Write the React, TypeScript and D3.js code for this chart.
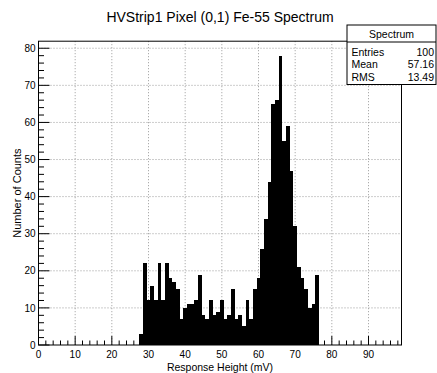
import React from "react";
import * as d3 from "d3";

const binCenters = [28, 29, 30, 31, 32, 33, 34, 35, 36, 37, 38, 39, 40, 41, 42, 43, 44, 45, 46, 47, 48, 49, 50, 51, 52, 53, 54, 55, 56, 57, 58, 59, 60, 61, 62, 63, 64, 65, 66, 67, 68, 69, 70, 71, 72, 73, 74, 75, 76];
const counts = [3, 22, 12, 16, 12, 22, 12, 22, 18, 17, 15, 7, 10, 11, 11, 12, 19, 8, 7, 12, 8, 9, 12, 7, 8, 15, 7, 8, 5, 12, 7, 15, 18, 26, 34, 44, 65, 66, 78, 55, 59, 47, 32, 21, 18, 15, 10, 11, 19];
const xTicks = [0, 10, 20, 30, 40, 50, 60, 70, 80, 90];
const yTicks = [0, 10, 20, 30, 40, 50, 60, 70, 80];
const title = "HVStrip1 Pixel (0,1) Fe-55 Spectrum";
const xTitle = "Response Height (mV)";
const yTitle = "Number of Counts";
const statsName = "Spectrum";
const statsLabels = ["Entries", "Mean", "RMS"];
const statsValues = ["100", "57.16", "13.49"];

const FONT = "'Liberation Sans', Arial, Helvetica, sans-serif";

export default function App() {
  const W = 437;
  const H = 373;
  const left = 38.5;
  const right = 401.5;
  const top = 41.2;
  const bottom = 345;
  const x = d3.scaleLinear().domain([0, 99]).range([left, right]);
  const y = d3.scaleLinear().domain([0, 81.9]).range([bottom, top]);
  const xMinor = d3.range(0, 99, 2);
  const yMinor = d3.range(0, 81, 2);

  const box = { x0: 347, x1: 436, y0: 25, sep: 42, y1: 84.5 };
  const rowBase = [55.5, 68, 80.5];

  return (
    <svg
      width={W}
      height={H}
      style={{ position: "absolute", left: 0, top: 0, display: "block", background: "#fff" }}
      fontFamily={FONT}
    >
      <rect x={0} y={0} width={W} height={H} fill="#fff" />
      {/* grid */}
      <g stroke="#9a9a9a" strokeWidth={1} strokeDasharray="1,2">
        {xTicks.filter((t) => t > 0).map((t) => (
          <line key={"gx" + t} x1={x(t)} x2={x(t)} y1={top} y2={bottom} />
        ))}
        {yTicks.filter((t) => t > 0).map((t) => (
          <line key={"gy" + t} x1={left} x2={right} y1={y(t)} y2={y(t)} />
        ))}
      </g>
      {/* bars */}
      <g fill="#000" shapeRendering="crispEdges">
        {binCenters.map((c, i) => (
          <rect
            key={"b" + c}
            x={x(c - 0.5)}
            width={x(c + 0.5) - x(c - 0.5)}
            y={y(counts[i])}
            height={bottom - y(counts[i])}
          />
        ))}
      </g>
      {/* frame */}
      <rect x={left} y={top} width={right - left} height={bottom - top} fill="none" stroke="#000" strokeWidth={1} />
      {/* ticks */}
      <g stroke="#000" strokeWidth={1}>
        {xMinor.map((t) => {
          const major = t % 10 === 0;
          return <line key={"xt" + t} x1={x(t)} x2={x(t)} y1={bottom} y2={bottom - (major ? 9 : 4.5)} />;
        })}
        {yMinor.map((t) => {
          const major = t % 10 === 0;
          return <line key={"yt" + t} x1={left} x2={left + (major ? 11 : 5.5)} y1={y(t)} y2={y(t)} />;
        })}
      </g>
      {/* tick labels */}
      <g fontSize={10} fill="#000">
        {xTicks.map((t) => (
          <text key={"xl" + t} x={x(t)} y={358} textAnchor="middle">
            {String(t)}
          </text>
        ))}
        {yTicks.map((t) => (
          <text key={"yl" + t} x={35.5} y={y(t) + 3.6} textAnchor="end">
            {String(t)}
          </text>
        ))}
      </g>
      {/* axis titles */}
      <text x={(left + right) / 2} y={370.5} textAnchor="middle" fontSize={10.5} fill="#000">
        {xTitle}
      </text>
      <text
        transform={`translate(20.5,${(top + bottom) / 2}) rotate(-90)`}
        textAnchor="middle"
        fontSize={11}
        fill="#000"
      >
        {yTitle}
      </text>
      {/* title */}
      <text x={220} y={22} textAnchor="middle" fontSize={14} fill="#000">
        {title}
      </text>
      {/* stats box */}
      <g>
        <rect x={box.x0} y={box.y0} width={box.x1 - box.x0} height={box.y1 - box.y0} fill="#fff" stroke="#000" strokeWidth={1} />
        <line x1={box.x0} x2={box.x1} y1={box.sep} y2={box.sep} stroke="#000" strokeWidth={1} />
        <text x={(box.x0 + box.x1) / 2} y={37.5} textAnchor="middle" fontSize={10.5} fill="#000">
          {statsName}
        </text>
        {statsLabels.map((l, i) => (
          <g key={l}>
            <text x={box.x0 + 4.5} y={rowBase[i]} fontSize={10.5} fill="#000">
              {l}
            </text>
            <text x={box.x1 - 2} y={rowBase[i]} textAnchor="end" fontSize={10.5} fill="#000">
              {statsValues[i]}
            </text>
          </g>
        ))}
      </g>
    </svg>
  );
}
